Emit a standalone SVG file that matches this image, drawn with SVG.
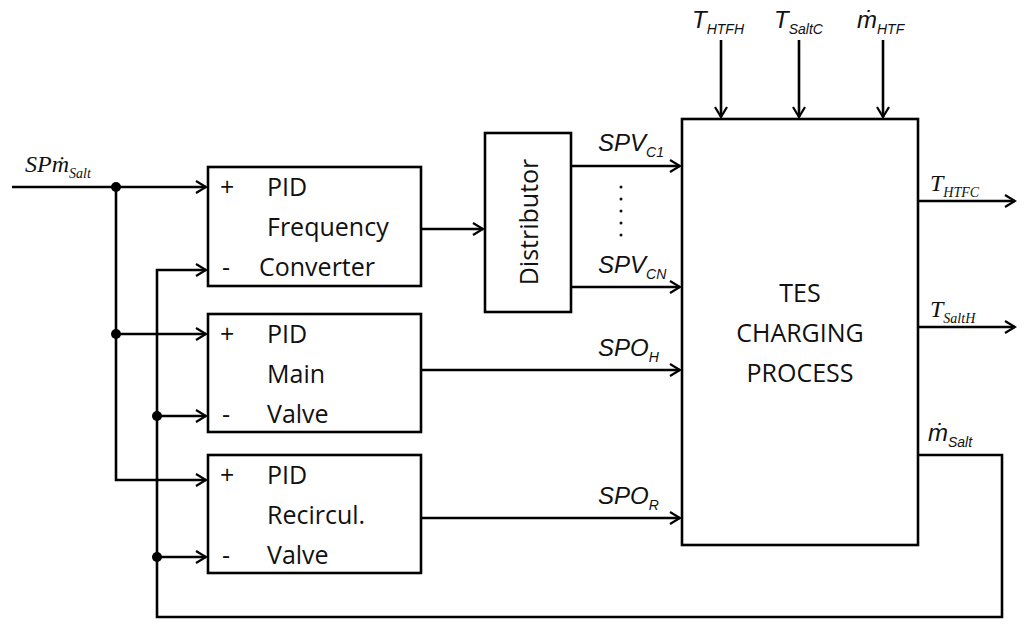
<svg xmlns="http://www.w3.org/2000/svg" width="1024" height="629" viewBox="0 0 1024 629">
<defs>
<marker id="a" markerWidth="14" markerHeight="14" refX="12" refY="7" orient="auto" markerUnits="userSpaceOnUse"><path d="M2,1 L12,7 L2,13" fill="none" stroke="#000" stroke-width="2.2"/></marker>
<style>
.l{stroke:#000;stroke-width:2.6;fill:none}
.b{stroke:#000;stroke-width:2.6;fill:#fff}
.t{font-family:"Open Sans","Liberation Sans",sans-serif;font-size:25px;fill:#111}
.i{font-family:"Liberation Sans",sans-serif;font-style:italic;font-size:24px;fill:#111}
.s{font-size:14px}
.r{font-family:"Liberation Serif",serif;font-style:italic;font-size:24px;fill:#111}
</style>
</defs>
<g id="connectors">
<path class="l" d="M12,187 H206" marker-end="url(#a)"/>
<path class="l" d="M116,187 V480 H206" marker-end="url(#a)"/>
<path class="l" d="M116,334 H206" marker-end="url(#a)"/>
<path class="l" d="M918,455 H1002 V617 H157 V270 H206" marker-end="url(#a)"/>
<path class="l" d="M157,416 H206" marker-end="url(#a)"/>
<path class="l" d="M157,557 H206" marker-end="url(#a)"/>
<path class="l" d="M421,229 H483" marker-end="url(#a)"/>
<path class="l" d="M571,166 H680" marker-end="url(#a)"/>
<path class="l" d="M571,287 H680" marker-end="url(#a)"/>
<path class="l" d="M421,370 H680" marker-end="url(#a)"/>
<path class="l" d="M421,518 H680" marker-end="url(#a)"/>
<path class="l" d="M721,40 V117" marker-end="url(#a)"/>
<path class="l" d="M799,40 V117" marker-end="url(#a)"/>
<path class="l" d="M883,40 V117" marker-end="url(#a)"/>
<path class="l" d="M918,201 H1015" marker-end="url(#a)"/>
<path class="l" d="M918,327 H1015" marker-end="url(#a)"/>
<circle cx="116" cy="187" r="5"/><circle cx="116" cy="334" r="5"/>
<circle cx="157" cy="416" r="5"/><circle cx="157" cy="557" r="5"/>
<g fill="#111"><circle cx="621" cy="187" r="1.5"/><circle cx="621" cy="199" r="1.5"/><circle cx="621" cy="211" r="1.5"/><circle cx="621" cy="223" r="1.5"/><circle cx="621" cy="235" r="1.5"/></g>
</g>
<g id="pid1"><rect class="b" x="208" y="167" width="213" height="119"/>
<text class="t" x="220" y="196">+</text><text class="t" x="267" y="196">PID</text>
<text class="t" x="267" y="236">Frequency</text>
<text class="t" x="222" y="276">-</text><text class="t" x="259" y="276">Converter</text></g>
<g id="pid2"><rect class="b" x="208" y="314" width="213" height="118"/>
<text class="t" x="220" y="343">+</text><text class="t" x="267" y="343">PID</text>
<text class="t" x="267" y="383">Main</text>
<text class="t" x="222" y="423">-</text><text class="t" x="267" y="423">Valve</text></g>
<g id="pid3"><rect class="b" x="208" y="455" width="213" height="118"/>
<text class="t" x="220" y="484">+</text><text class="t" x="267" y="484">PID</text>
<text class="t" x="267" y="524">Recircul.</text>
<text class="t" x="222" y="564">-</text><text class="t" x="267" y="564">Valve</text></g>
<g id="distributor"><rect class="b" x="485" y="133" width="86" height="179"/>
<text class="t" transform="translate(538,222) rotate(-90)" text-anchor="middle">Distributor</text></g>
<g id="tes"><rect class="b" x="682" y="119" width="236" height="426"/>
<text class="t" x="800" y="302" text-anchor="middle">TES</text>
<text class="t" x="800" y="342" text-anchor="middle">CHARGING</text>
<text class="t" x="800" y="382" text-anchor="middle">PROCESS</text></g>
<g id="labels">
<text class="r" x="25" y="172">SPṁ<tspan class="s" dy="6">Salt</tspan></text>
<text class="i" x="692" y="28">T<tspan class="s" dy="6">HTFH</tspan></text>
<text class="i" x="774" y="28">T<tspan class="s" dy="6">SaltC</tspan></text>
<text class="i" x="857" y="28">ṁ<tspan class="s" dy="6">HTF</tspan></text>
<text class="i" x="598" y="151">SPV<tspan class="s" dy="6">C1</tspan></text>
<text class="i" x="598" y="273">SPV<tspan class="s" dy="6">CN</tspan></text>
<text class="i" x="598" y="356">SPO<tspan class="s" dy="6">H</tspan></text>
<text class="i" x="598" y="504">SPO<tspan class="s" dy="6">R</tspan></text>
<text class="r" x="930" y="191">T<tspan class="s" dy="6">HTFC</tspan></text>
<text class="r" x="930" y="317">T<tspan class="s" dy="6">SaltH</tspan></text>
<text class="i" x="928" y="441">ṁ<tspan class="s" dy="6">Salt</tspan></text>
</g>
</svg>
